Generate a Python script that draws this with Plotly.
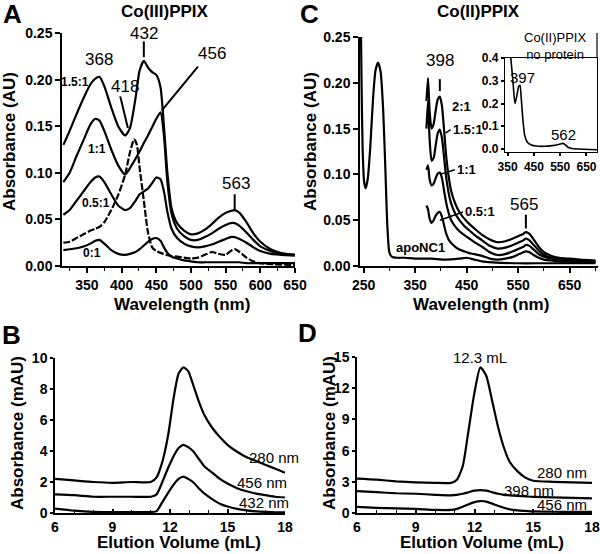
import plotly.graph_objects as go

# ---------------- data ----------------
# Panel A: Co(III)PPIX titration spectra
wl_a = [316, 325, 335, 345, 355, 362, 368, 375, 385, 395, 405, 412, 420, 426, 432, 438,
        444, 450, 456, 461, 466, 472, 480, 490, 500, 510, 520, 530, 540, 550, 557, 563,
        570, 580, 590, 600, 615, 630, 650]
a_15 = [0.130, 0.145, 0.163, 0.180, 0.195, 0.201, 0.203, 0.193, 0.170, 0.150, 0.140, 0.148,
        0.180, 0.210, 0.220, 0.213, 0.208, 0.205, 0.192, 0.150, 0.100, 0.062, 0.046, 0.038,
        0.034, 0.035, 0.039, 0.045, 0.052, 0.057, 0.059, 0.060, 0.057, 0.047, 0.035, 0.026,
        0.018, 0.014, 0.012]
a_10 = [0.090, 0.100, 0.118, 0.135, 0.152, 0.158, 0.156, 0.145, 0.125, 0.108, 0.098, 0.105,
        0.115, 0.123, 0.132, 0.140, 0.149, 0.158, 0.165, 0.140, 0.090, 0.056, 0.040, 0.032,
        0.028, 0.028, 0.031, 0.035, 0.040, 0.044, 0.046, 0.046, 0.043, 0.036, 0.028, 0.021,
        0.016, 0.013, 0.012]
a_05 = [0.055, 0.060, 0.070, 0.080, 0.090, 0.095, 0.096, 0.090, 0.077, 0.065, 0.060, 0.062,
        0.070, 0.077, 0.080, 0.083, 0.089, 0.095, 0.093, 0.080, 0.058, 0.040, 0.030, 0.024,
        0.021, 0.020, 0.021, 0.023, 0.026, 0.029, 0.031, 0.031, 0.029, 0.025, 0.020, 0.016,
        0.013, 0.012, 0.011]
a_00 = [0.017, 0.018, 0.019, 0.021, 0.024, 0.027, 0.028, 0.024, 0.017, 0.013, 0.012, 0.013,
        0.015, 0.018, 0.022, 0.026, 0.029, 0.030, 0.027, 0.020, 0.014, 0.010, 0.008, 0.006,
        0.005, 0.004, 0.004, 0.004, 0.004, 0.004, 0.004, 0.004, 0.004, 0.003, 0.003, 0.003,
        0.003, 0.003, 0.003]
wl_free = [316, 325, 335, 345, 355, 362, 368, 375, 385, 395, 405, 412, 418, 422, 426, 432,
           438, 444, 450, 460, 470, 480, 490, 500, 510, 520, 530, 540, 550, 557, 563, 570,
           580, 590, 600, 615, 650]
a_free = [0.025, 0.026, 0.030, 0.034, 0.038, 0.040, 0.042, 0.047, 0.060, 0.076, 0.098, 0.122,
          0.136, 0.130, 0.105, 0.070, 0.036, 0.020, 0.016, 0.013, 0.011, 0.010, 0.009, 0.008,
          0.009, 0.012, 0.015, 0.013, 0.012, 0.016, 0.018, 0.015, 0.009, 0.005, 0.003, 0.002,
          0.001]

# Panel C: Co(II)PPIX titration spectra
wl_apo = [244, 246, 248, 251, 254, 258, 263, 268, 273, 278, 283, 288, 292, 296, 300, 305,
          315, 330, 350, 380, 410, 435, 450, 465, 480, 500, 550, 600, 650, 700]
c_apo = [0.30, 0.20, 0.13, 0.092, 0.085, 0.095, 0.130, 0.180, 0.213, 0.222, 0.212, 0.170,
         0.110, 0.045, 0.015, 0.010, 0.009, 0.009, 0.008, 0.008, 0.007, 0.008, 0.009, 0.007,
         0.005, 0.004, 0.003, 0.003, 0.003, 0.003]
wl_c = [372, 375, 378, 382, 386, 390, 394, 398, 402, 406, 410, 415, 420, 428, 436, 445,
        455, 465, 480, 495, 510, 525, 540, 552, 560, 565, 572, 580, 590, 600, 615, 630,
        650, 670, 700]
c_20 = [0.180, 0.205, 0.170, 0.150, 0.155, 0.170, 0.182, 0.185, 0.175, 0.150, 0.122, 0.098,
        0.082, 0.068, 0.059, 0.052, 0.046, 0.041, 0.034, 0.029, 0.026, 0.027, 0.030, 0.033,
        0.035, 0.037, 0.035, 0.029, 0.021, 0.015, 0.011, 0.009, 0.008, 0.007, 0.006]
c_15 = [0.150, 0.180, 0.140, 0.115, 0.118, 0.132, 0.145, 0.149, 0.140, 0.120, 0.098, 0.080,
        0.068, 0.057, 0.050, 0.044, 0.039, 0.034, 0.028, 0.022, 0.019, 0.020, 0.023, 0.026,
        0.028, 0.030, 0.028, 0.023, 0.017, 0.012, 0.009, 0.008, 0.007, 0.006, 0.005]
c_10 = [0.105, 0.110, 0.095, 0.088, 0.090, 0.096, 0.101, 0.102, 0.096, 0.083, 0.070, 0.058,
        0.050, 0.043, 0.038, 0.034, 0.030, 0.026, 0.021, 0.015, 0.012, 0.013, 0.016, 0.019,
        0.021, 0.023, 0.022, 0.018, 0.013, 0.010, 0.008, 0.007, 0.006, 0.005, 0.005]
c_05 = [0.066, 0.062, 0.052, 0.047, 0.050, 0.055, 0.058, 0.059, 0.054, 0.045, 0.036, 0.029,
        0.025, 0.021, 0.018, 0.016, 0.014, 0.013, 0.011, 0.008, 0.007, 0.008, 0.010, 0.013,
        0.015, 0.016, 0.015, 0.012, 0.009, 0.007, 0.006, 0.005, 0.004, 0.004, 0.004]

# inset: Co(II)PPIX, no protein
wl_ins = [355, 362, 370, 378, 386, 392, 397, 402, 408, 415, 425, 440, 460, 490, 520, 540,
          553, 562, 570, 580, 595, 620, 660, 690]
ins = [0.46, 0.40, 0.30, 0.20, 0.24, 0.275, 0.28, 0.22, 0.13, 0.06, 0.03, 0.018, 0.013,
       0.012, 0.015, 0.019, 0.023, 0.025, 0.018, 0.008, 0.002, 0.0, -0.002, -0.003]

# Panel B: SEC, Co(III)PPIX-NC1
vol_b = [6, 7, 8, 9, 10, 11, 11.3, 11.6, 11.9, 12.2, 12.45, 12.7, 12.95, 13.2, 13.5, 13.8,
         14.2, 14.6, 15, 15.5, 16, 16.5, 17, 17.5, 18]
b_280 = [2.2, 2.1, 2.0, 1.95, 2.0, 2.0, 2.3, 3.3, 5.0, 7.5, 9.0, 9.4, 9.15, 8.3, 7.2, 6.3,
         5.5, 4.9, 4.4, 3.95, 3.6, 3.35, 3.1, 2.85, 2.6]
b_456 = [1.2, 1.15, 1.05, 1.05, 1.05, 1.05, 1.2, 2.0, 2.9, 3.7, 4.2, 4.4, 4.25, 4.0, 3.5,
         3.0, 2.6, 2.2, 1.9, 1.6, 1.4, 1.25, 1.15, 1.05, 1.0]
b_432 = [0.28, 0.15, 0.07, 0.06, 0.06, 0.06, 0.12, 0.7, 1.3, 1.85, 2.2, 2.35, 2.2, 2.0, 1.6,
         1.25, 0.9, 0.6, 0.42, 0.27, 0.17, 0.1, 0.07, 0.05, 0.05]

# Panel D: SEC, Co(II)PPIX-NC1
vol_d = [6, 7, 8, 9, 10, 10.8, 11.1, 11.4, 11.7, 12.0, 12.3, 12.6, 12.9, 13.2, 13.5, 13.8,
         14.2, 14.6, 15, 16, 17, 18]
d_280 = [3.3, 3.2, 3.05, 2.95, 2.9, 2.9, 3.2, 4.5, 8.0, 11.6, 14.0, 13.2, 10.8, 8.3, 6.3,
         4.9, 4.0, 3.4, 3.1, 3.0, 2.95, 2.9]
d_398 = [2.1, 2.0, 1.9, 1.85, 1.75, 1.7, 1.75, 1.85, 2.0, 2.15, 2.2, 2.15, 2.0, 1.85, 1.75,
         1.7, 1.65, 1.6, 1.55, 1.5, 1.45, 1.4]
d_456 = [0.58, 0.5, 0.45, 0.4, 0.3, 0.3, 0.4, 0.6, 0.85, 1.05, 1.15, 1.1, 0.9, 0.7, 0.5,
         0.35, 0.25, 0.2, 0.15, 0.12, 0.1, 0.1]

W, H = 600, 554
FONT = "Liberation Sans, Arial, sans-serif"


def px(x):
    return x / W


def py(y):
    return 1 - y / H


fig = go.Figure()


def line(x, y, ax, width=2.2, dash=None):
    fig.add_trace(go.Scatter(
        x=x, y=y, mode='lines', xaxis='x' + ax, yaxis='y' + ax,
        line=dict(color='black', width=width, shape='spline', smoothing=0.6, dash=dash),
        hoverinfo='x+y', showlegend=False))


for ys in (a_15, a_10, a_05, a_00):
    line(wl_a, ys, '')
line(wl_free, a_free, '', dash='7px,2px')

line(wl_apo, c_apo, '2')
for ys in (c_20, c_15, c_10, c_05):
    line(wl_c, ys, '2')

line(vol_b, b_280, '3')
line(vol_b, b_456, '3')
line(vol_b, b_432, '3')

line(vol_d, d_280, '4')
line(vol_d, d_398, '4')
line(vol_d, d_456, '4')

line(wl_ins, ins, '5', width=1.6)

tickfont = dict(family=FONT, size=14, color='black', weight='bold')
sec_font = dict(tickfont, size=14)


def axis(domain, rng, anchor, **kw):
    d = dict(domain=domain, range=rng, anchor=anchor, showline=True, linecolor='black',
             linewidth=1.5, ticks='outside', ticklen=5, tickwidth=1.5, tickcolor='black',
             showgrid=False, zeroline=False, tickfont=tickfont, fixedrange=True)
    d.update(kw)
    return d


def minor(dt, side='outside'):
    return dict(dtick=dt, ticks=side, ticklen=3, tickwidth=1.2, tickcolor='black')


fig.update_layout(
    width=W, height=H, margin=dict(l=0, r=0, t=0, b=0, autoexpand=False),
    paper_bgcolor='white', plot_bgcolor='rgba(0,0,0,0)',
    font=dict(family=FONT, color='black'),
    xaxis=axis([px(62), px(295)], [314, 650], 'y', tick0=350, dtick=50, minor=minor(25)),
    yaxis=axis([py(266), py(33)], [0, 0.25], 'x', dtick=0.05, tickformat='.2f'),
    xaxis2=axis([px(360), px(598)], [243, 705], 'y2', tick0=250, dtick=100, minor=minor(50)),
    yaxis2=axis([py(266), py(37)], [0, 0.25], 'x2', dtick=0.05, tickformat='.2f'),
    xaxis3=axis([px(55), px(285)], [6, 18], 'y3', tick0=6, dtick=3, ticks='inside', ticklen=4,
                minor=minor(1, 'inside'), tickfont=sec_font),
    yaxis3=axis([py(513), py(358)], [0, 10], 'x3', dtick=2, ticklen=3, tickfont=sec_font),
    xaxis4=axis([px(357), px(592)], [6, 18], 'y4', tick0=6, dtick=3, ticks='inside', ticklen=4,
                minor=minor(1, 'inside'), tickfont=sec_font),
    yaxis4=axis([py(513), py(357)], [0, 15], 'x4', dtick=3, ticklen=3, tickfont=sec_font),
    xaxis5=axis([px(505), px(597)], [340, 690], 'y5', tickvals=[350, 450, 550, 650],
                mirror=True, ticklen=3, linewidth=1.2, tickfont=dict(tickfont, size=12)),
    yaxis5=axis([py(152), py(58)], [-0.013, 0.4], 'x5', tickvals=[0, 0.1, 0.2, 0.3, 0.4],
                tickformat='.1f', mirror=True, ticklen=3, linewidth=1.2,
                tickfont=dict(tickfont, size=12)),
)

# inset frame extends above the 0.4 line on the right
fig.add_shape(type='line', xref='paper', yref='paper', x0=px(597), x1=px(597),
              y0=py(58), y1=py(33), line=dict(color='black', width=1.2))

ann = []


def text(x, y, s, size=16, bold=False, xref='paper', yref='paper', angle=0, xanchor='center'):
    ann.append(dict(x=x, y=y, xref=xref, yref=yref, text=s, showarrow=False, textangle=angle,
                    xanchor=xanchor, yanchor='middle',
                    font=dict(family=FONT, size=size, color='black',
                              weight='bold' if bold else 'normal')))


def seg(x0, y0, x1, y1, ax, w=2):
    fig.add_shape(type='line', xref='x' + ax, yref='y' + ax, x0=x0, y0=y0, x1=x1, y1=y1,
                  line=dict(color='black', width=w))


# panel letters and titles
text(px(12), py(14), 'A', 26, True)
text(px(309), py(14), 'C', 26, True)
text(px(11), py(335), 'B', 26, True)
text(px(307), py(333), 'D', 26, True)
text(px(165), py(12), 'Co(III)PPIX', 17, True)
text(px(478), py(12), 'Co(II)PPIX', 17, True)

# axis titles
text(px(9), py(142), 'Absorbance (AU)', 17, True, angle=-90)
text(px(310), py(142), 'Absorbance (AU)', 17, True, angle=-90)
text(px(17), py(433), 'Absorbance (mAU)', 17, True, angle=-90)
text(px(329), py(433), 'Absorbance (mAU)', 17, True, angle=-90)
text(px(182), py(304), 'Wavelength (nm)', 17, True)
text(px(481), py(304), 'Wavelength (nm)', 17, True)
text(px(179), py(542), 'Elution Volume (mL)', 17, True)
text(px(482), py(542), 'Elution Volume (mL)', 17, True)

# panel A labels
text(368, 0.222, '368', 17, xref='x', yref='y')
text(432, 0.249, '432', 17, xref='x', yref='y')
seg(432, 0.241, 432, 0.224, '')
text(531, 0.228, '456', 17, xref='x', yref='y')
seg(510, 0.214, 458, 0.167, '')
text(405, 0.193, '418', 17, xref='x', yref='y')
seg(398, 0.182, 409, 0.148, '')
text(565, 0.089, '563', 17, xref='x', yref='y')
seg(563, 0.077, 563, 0.060, '')
text(333, 0.197, '1.5:1', 12, True, xref='x', yref='y')
text(364, 0.125, '1:1', 12, True, xref='x', yref='y')
text(363, 0.068, '0.5:1', 12, True, xref='x', yref='y')
text(357, 0.014, '0:1', 12, True, xref='x', yref='y')

# panel C labels
text(398, 0.224, '398', 17, xref='x2', yref='y2')
seg(398, 0.204, 398, 0.191, '2')
text(417, 0.174, '2:1', 13, True, xref='x2', yref='y2', xanchor='left')
seg(409, 0.145, 419, 0.149, '2', 1.5)
text(419, 0.149, '1.5:1', 13, True, xref='x2', yref='y2', xanchor='left')
seg(398, 0.100, 427, 0.105, '2', 1.5)
text(427, 0.105, '1:1', 13, True, xref='x2', yref='y2', xanchor='left')
seg(398, 0.050, 443, 0.059, '2', 1.5)
text(443, 0.059, '0.5:1', 13, True, xref='x2', yref='y2', xanchor='left')
text(562, 0.067, '565', 17, xref='x2', yref='y2')
seg(565, 0.056, 565, 0.041, '2')
text(360, 0.020, 'apoNC1', 13, True, xref='x2', yref='y2')

# inset labels
text(px(555), py(46), 'Co(II)PPIX<br>no protein', 13)
text(408, 0.316, '397', 15, xref='x5', yref='y5')
text(564, 0.062, '562', 15, xref='x5', yref='y5')

# panel B labels
text(12.7, 10.3, '12.7 mL', 15, xref='x3', yref='y3')
text(16.0, 3.6, '280 nm', 15, xref='x3', yref='y3', xanchor='left')
text(15.4, 1.95, '456 nm', 15, xref='x3', yref='y3', xanchor='left')
text(15.5, 0.65, '432 nm', 15, xref='x3', yref='y3', xanchor='left')

# panel D labels
text(12.3, 15.0, '12.3 mL', 15, xref='x4', yref='y4')
text(15.1, 3.85, '280 nm', 15, xref='x4', yref='y4', xanchor='left')
text(13.4, 2.2, '398 nm', 15, xref='x4', yref='y4', xanchor='left')
text(15.1, 0.77, '456 nm', 15, xref='x4', yref='y4', xanchor='left')

fig.update_layout(annotations=ann)
# the page's default body margin would shift the figure; drop it
fig.write_html("out.html", config={'displayModeBar': False},
               post_script="document.body.style.margin='0';")
